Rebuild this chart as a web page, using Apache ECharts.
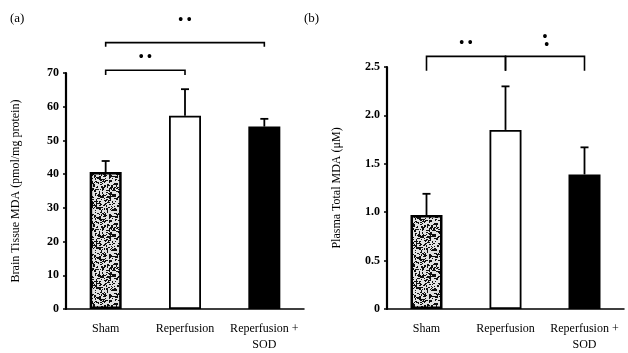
<!DOCTYPE html>
<html>
<head>
<meta charset="utf-8">
<script src="https://cdn.jsdelivr.net/npm/echarts@6/dist/echarts.min.js"></script>
<style>
  html, body { margin: 0; padding: 0; background: #fff; }
  #chart { width: 628px; height: 353px; }
</style>
</head>
<body>
<div id="chart"></div>
<script>
// groups
var categories = ['Sham', 'Reperfusion', 'Reperfusion +\nSOD'];

// (a) brain tissue MDA, pmol/mg protein
var brainMean = [40.6, 57.3, 54.1];
var brainErr = [3.3, 7.9, 2.3];
// (b) plasma total MDA, uM
var plasmaMean = [0.97, 1.85, 1.39];
var plasmaErr = [0.22, 0.45, 0.28];

// significance brackets: [fromIdx, toIdx, yValue, dropValue, label]
var brainBrackets = [
  [0, 2, 79.0, 1.2, '• •'],
  [0, 1, 70.8, 1.4, '• •']
];
var plasmaBrackets = [
  [0, 1, 2.61, 0.15, '• •'],
  [1, 2, 2.61, 0.15, '•\n •']
];
// vertical offset (px) of the star text above each bracket
var brainStarGap = [18, 9];
var plasmaStarGap = [9, 7];

var barColors = ['sham', '#ffffff', '#000000'];

var FONT = 'Liberation Serif';

// speckled texture for the sham bar
function speckle() {
  var n = 40;
  var c = document.createElement('canvas');
  c.width = n; c.height = n;
  var ctx = c.getContext('2d');
  ctx.fillStyle = '#e2e2e2';
  ctx.fillRect(0, 0, n, n);
  ctx.fillStyle = '#111';
  var s = 123456789;
  function next() {
    s ^= s << 13; s ^= s >>> 17; s ^= s << 5;
    return (s >>> 0) / 4294967296;
  }
  for (var k = 0; k < 520; k++) {
    var x = Math.floor(next() * n);
    var y = Math.floor(next() * n);
    ctx.fillRect(x, y, next() < 0.3 ? 2 : 1, next() < 0.2 ? 2 : 1);
  }
  return c;
}
var shamFill = { image: speckle(), repeat: 'repeat' };

function barData(values) {
  return values.map(function (v, i) {
    return {
      value: v,
      itemStyle: {
        color: barColors[i] === 'sham' ? shamFill : barColors[i],
        borderColor: '#000',
        borderWidth: i === 0 ? 2.5 : 1.8
      }
    };
  });
}

function errData(mean, err) {
  return mean.map(function (m, i) { return [i, m, m + err[i]]; });
}

function renderErr(params, api) {
  var lo = api.coord([api.value(0), api.value(1)]);
  var hi = api.coord([api.value(0), api.value(2)]);
  var cap = 4;
  return {
    type: 'group',
    children: [
      { type: 'line', shape: { x1: lo[0], y1: lo[1], x2: hi[0], y2: hi[1] },
        style: { stroke: '#000', lineWidth: 1.8 } },
      { type: 'line', shape: { x1: hi[0] - cap, y1: hi[1], x2: hi[0] + cap, y2: hi[1] },
        style: { stroke: '#000', lineWidth: 1.8 } }
    ]
  };
}

function makeBracket(gaps) {
  return function (params, api) {
    var a = api.coord([api.value(0), api.value(2)]);
    var b = api.coord([api.value(1), api.value(2)]);
    var d = api.coord([api.value(0), api.value(2) - api.value(3)]);
    var label = api.value(4);
    return {
      type: 'group',
      children: [
        { type: 'polyline',
          shape: { points: [[a[0], d[1]], [a[0], a[1]], [b[0], b[1]], [b[0], d[1]]] },
          style: { stroke: '#000', lineWidth: 1.6, fill: null } },
        { type: 'text',
          style: { text: label, x: (a[0] + b[0]) / 2, y: a[1] - gaps[params.dataIndex], align: 'center',
                   verticalAlign: 'bottom', fontSize: 14, fontWeight: 'bold',
                   lineHeight: 8, fontFamily: FONT, fill: '#000' } }
      ]
    };
  };
}

function xAxis(idx) {
  return {
    type: 'category', gridIndex: idx, data: categories,
    axisLine: { lineStyle: { color: '#000', width: 1.5 } },
    axisTick: { show: false },
    axisLabel: { color: '#000', fontFamily: FONT, fontSize: 12, margin: 12, lineHeight: 16,
                 interval: 0, hideOverlap: false }
  };
}

function yAxis(idx, max, interval, name, fmt) {
  return {
    type: 'value', gridIndex: idx, min: 0, max: max, interval: interval,
    name: name, nameLocation: 'middle', nameGap: 44,
    nameTextStyle: { color: '#000', fontFamily: FONT, fontSize: 12 },
    axisLine: { show: true, lineStyle: { color: '#000', width: 2.2 } },
    axisTick: { show: true, length: 3, lineStyle: { color: '#000', width: 1.5 } },
    axisLabel: { color: '#000', fontFamily: FONT, fontSize: 12, fontWeight: 'bold',
                 margin: 7, formatter: fmt },
    splitLine: { show: false }
  };
}

var chart = echarts.init(document.getElementById('chart'));
chart.setOption({
  backgroundColor: '#fff',
  animation: false,
  graphic: [
    { type: 'text', left: 10, top: 12, style: { text: '(a)', fontFamily: FONT, fontSize: 13, fill: '#000' } },
    { type: 'text', left: 304, top: 12, style: { text: '(b)', fontFamily: FONT, fontSize: 13, fill: '#000' } }
  ],
  grid: [
    { left: 66, right: 324, top: 73, bottom: 41 },
    { left: 387, right: 4, top: 67, bottom: 41 }
  ],
  xAxis: [xAxis(0), xAxis(1)],
  yAxis: [
    yAxis(0, 70, 10, 'Brain Tissue MDA (pmol/mg protein)', function (v) { return String(v); }),
    yAxis(1, 2.5, 0.5, 'Plasma Total MDA (μM)', function (v) { return v === 0 ? '0' : v.toFixed(1); })
  ],
  series: [
    { type: 'bar', xAxisIndex: 0, yAxisIndex: 0, barWidth: 32, data: barData(brainMean) },
    { type: 'bar', xAxisIndex: 1, yAxisIndex: 1, barWidth: 32, data: barData(plasmaMean) },
    { type: 'custom', xAxisIndex: 0, yAxisIndex: 0, renderItem: renderErr, data: errData(brainMean, brainErr), z: 1 },
    { type: 'custom', xAxisIndex: 1, yAxisIndex: 1, renderItem: renderErr, data: errData(plasmaMean, plasmaErr), z: 1 },
    { type: 'custom', xAxisIndex: 0, yAxisIndex: 0, renderItem: makeBracket(brainStarGap), data: brainBrackets, clip: false },
    { type: 'custom', xAxisIndex: 1, yAxisIndex: 1, renderItem: makeBracket(plasmaStarGap), data: plasmaBrackets, clip: false }
  ]
});
</script>
</body>
</html>
